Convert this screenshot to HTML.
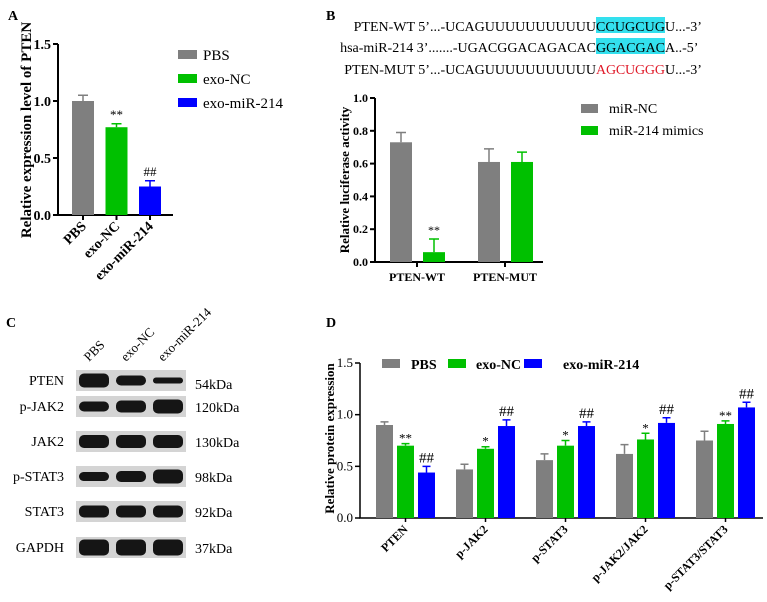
<!DOCTYPE html>
<html><head><meta charset="utf-8">
<style>
html,body{margin:0;padding:0;background:#fff;}
svg{display:block;font-family:"Liberation Serif",serif;}
</style></head>
<body>
<svg id="fig" width="767" height="602" viewBox="0 0 767 602" xmlns="http://www.w3.org/2000/svg">
<text x="8" y="20" font-size="14" font-weight="bold">A</text>
<text x="326" y="20" font-size="14" font-weight="bold">B</text>
<text x="6" y="327" font-size="14" font-weight="bold">C</text>
<text x="326" y="327" font-size="14" font-weight="bold">D</text>

<g font-size="14">
  <rect x="596" y="17" width="69" height="16" fill="#33e0ee"/>
  <rect x="596" y="38" width="69" height="16" fill="#33e0ee"/>
  <text x="596" y="31" text-anchor="end">PTEN-WT  5’...-UCAGUUUUUUUUUUU</text>
  <text x="596" y="31" textLength="69">CCUGCUG</text>
  <text x="665" y="31">U...-3’</text>
  <text x="596" y="52" text-anchor="end">hsa-miR-214  3’.......-UGACGGACAGACAC</text>
  <text x="596" y="52" textLength="69">GGACGAC</text>
  <text x="665" y="52">A..-5’</text>
  <text x="596" y="74" text-anchor="end">PTEN-MUT  5’...-UCAGUUUUUUUUUUU</text>
  <text x="596" y="74" textLength="69" fill="#e01b2a">AGCUGGG</text>
  <text x="665" y="74">U...-3’</text>
</g>
<g id="blot"></g>
<g id="pa"></g>
<g id="pb"></g>
<g id="pd"></g>
</svg>
<script>
// ---- Panel A data
const aCategories = ["PBS","exo-NC","exo-miR-214"];
const aValues = [1.0, 0.77, 0.25];
const aErrors = [0.05, 0.03, 0.05];
const aMarks = ["", "**", "##"];
const aTicks = [0, 0.5, 1.0, 1.5];
// ---- Panel B data
const bCategories = ["PTEN-WT","PTEN-MUT"];
const bSeries = ["miR-NC","miR-214 mimics"];
const bNC = [0.73, 0.61];
const bMimic = [0.06, 0.61];
const bNCErr = [0.06, 0.08];
const bMimicErr = [0.08, 0.06];
const bMarks = ["**", ""];
const bTicks = [0, 0.2, 0.4, 0.6, 0.8, 1.0];
// ---- Panel D data
const dCategories = ["PTEN","p-JAK2","p-STAT3","p-JAK2/JAK2","p-STAT3/STAT3"];
const dSeries = ["PBS","exo-NC","exo-miR-214"];
const dPBS = [0.90, 0.47, 0.56, 0.62, 0.75];
const dNC = [0.70, 0.67, 0.70, 0.76, 0.91];
const dMiR = [0.44, 0.89, 0.89, 0.92, 1.07];
const dPBSErr = [0.03, 0.05, 0.06, 0.09, 0.09];
const dNCErr = [0.02, 0.02, 0.05, 0.06, 0.03];
const dMiRErr = [0.06, 0.06, 0.04, 0.05, 0.05];
const dNCMarks = ["**","*","*","*","**"];
const dMiRMarks = ["##","##","##","##","##"];
const dTicks = [0, 0.5, 1.0, 1.5];

const NS="http://www.w3.org/2000/svg";
const GRAY="#7f7f7f", GREEN="#00c000", BLUE="#0000ff";
function mk(parent, tag, attrs, text){
  const e=document.createElementNS(NS,tag);
  for(const k in attrs) e.setAttribute(k,attrs[k]);
  if(text!==undefined) e.textContent=text;
  parent.appendChild(e); return e;
}
function errBar(g,cx,yTop,yErr,color,w){
  const l=mk(g,'path',{d:`M${cx} ${yTop}V${yErr}M${cx-w} ${yErr}H${cx+w}`,stroke:color,'stroke-width':1.5,fill:'none'});
  
  
}

// ===== Panel A
(function(){
  const g=document.getElementById('pa');
  const x0=58,x1=173,yB=215,yT=44,vmax=1.5;
  const y=v=>yB-(v/vmax)*(yB-yT);
  const colors=[GRAY,GREEN,BLUE];
  const xc=i=>83+i*33.5;
  const ax=mk(g,'path',{d:`M${x0} ${yT}V${yB}H${x1}`,stroke:'#000','stroke-width':2,fill:'none'});
  
  
  aTicks.forEach(t=>{
    mk(g,'line',{x1:x0-5,x2:x0,y1:y(t),y2:y(t),stroke:'#000','stroke-width':2});
    const tl=mk(g,'text',{x:x0-7,y:y(t)+5,'text-anchor':'end','font-size':14,'font-weight':'bold'},t.toFixed(1));
    
    
  });
  aValues.forEach((v,i)=>{
    const cx=xc(i);
    const r=mk(g,'rect',{x:cx-11,y:y(v),width:22,height:yB-y(v),fill:colors[i]});
    
    
    errBar(g,cx,y(v),y(v+aErrors[i]),colors[i],5);
    if(aMarks[i]){const m=mk(g,'text',{x:cx,y:y(v+aErrors[i])-5,'text-anchor':'middle','font-size':13},aMarks[i]);
      }
    mk(g,'line',{x1:cx,x2:cx,y1:yB,y2:yB+5,stroke:'#000','stroke-width':2});
    const lb=mk(g,'text',{x:cx+4,y:yB+12,'text-anchor':'end','font-size':14,'font-weight':'bold',transform:`rotate(-45 ${cx+4} ${yB+12})`},aCategories[i]);
    
    
    const sw=mk(g,'rect',{x:178,y:50+i*24,width:19,height:9,fill:colors[i]});
    
    
    const lt=mk(g,'text',{x:203,y:60+i*24,'font-size':15},aCategories[i]);
    
    
  });
  const t=mk(g,'text',{x:0,y:0,'text-anchor':'middle','font-size':15,'font-weight':'bold',transform:`translate(31 130) rotate(-90)`},'Relative expression level of PTEN');
  
  
})();

// ===== Panel B
(function(){
  const g=document.getElementById('pb');
  const x0=375,x1=543,yB=262,yT=98,vmax=1.0;
  const y=v=>yB-(v/vmax)*(yB-yT);
  const gc=i=>417+i*88;
  const ax=mk(g,'path',{d:`M${x0} ${yT}V${yB}H${x1}`,stroke:'#000','stroke-width':2,fill:'none'});
  
  
  bTicks.forEach(t=>{
    mk(g,'line',{x1:x0-5,x2:x0,y1:y(t),y2:y(t),stroke:'#000','stroke-width':2});
    const tl=mk(g,'text',{x:x0-7,y:y(t)+4,'text-anchor':'end','font-size':12,'font-weight':'bold'},t.toFixed(1));
    
    
  });
  bCategories.forEach((c,i)=>{
    const c1=gc(i)-16,c2=gc(i)+17;
    [[bNC,bNCErr,GRAY,c1],[bMimic,bMimicErr,GREEN,c2]].forEach(([vals,errs,col,cx],s)=>{
      const v=vals[i];
      const r=mk(g,'rect',{x:cx-11,y:y(v),width:22,height:yB-y(v),fill:col});
      
      
      errBar(g,cx,y(v),y(v+errs[i]),col,5);
    });
    if(bMarks[i]){const m=mk(g,'text',{x:c2,y:y(bMimic[i]+bMimicErr[i])-5,'text-anchor':'middle','font-size':12},bMarks[i]);
      }
    mk(g,'line',{x1:gc(i),x2:gc(i),y1:yB,y2:yB+5,stroke:'#000','stroke-width':2});
    const lb=mk(g,'text',{x:gc(i),y:yB+19,'text-anchor':'middle','font-size':12,'font-weight':'bold'},c);
    
    
  });
  [GRAY,GREEN].forEach((col,i)=>{
    const sw=mk(g,'rect',{x:581,y:104+i*22,width:17,height:9,fill:col});
    
    
    const lt=mk(g,'text',{x:609,y:113+i*22,'font-size':14},bSeries[i]);
    
    
  });
  const t=mk(g,'text',{x:0,y:0,'text-anchor':'middle','font-size':13,'font-weight':'bold',transform:`translate(349 ${(yT+yB)/2}) rotate(-90)`},'Relative luciferase activity');
  
  
})();

// ===== Panel C (western blot)
(function(){
  const g=document.getElementById('blot');
  const rows=["PTEN","p-JAK2","JAK2","p-STAT3","STAT3","GAPDH"];
  const kda=["54kDa","120kDa","130kDa","98kDa","92kDa","37kDa"];
  const tops=[370,396,431,466,501,537];
  const lanes=[94,131,168];
  const lanesN=["PBS","exo-NC","exo-miR-214"];
  const bandH=[[7,5,3],[5,6,7],[6.5,6.5,6.5],[4.5,5.5,7],[6,6,6],[8,8,8]];
  rows.forEach((r,i)=>{
    const bx=mk(g,'rect',{x:76,y:tops[i],width:110,height:21,fill:'#d4d4d4'});
    
    
    lanes.forEach((lx,j)=>{
      const h=bandH[i][j]*2;
      const b=mk(g,'rect',{x:lx-15,y:tops[i]+10.5-h/2,width:30,height:h,rx:Math.min(5,h/2),fill:'#151515'});
      
      
    });
    const l=mk(g,'text',{x:64,y:tops[i]+15,'text-anchor':'end','font-size':14},r);
    
    
    const k=mk(g,'text',{x:195,y:tops[i]+(i==0?19:16),'font-size':14},kda[i]);
    
    
  });
  lanes.forEach((lx,j)=>{
    const t=mk(g,'text',{x:lx-5,y:362,'font-size':13,transform:`rotate(-45 ${lx-5} 362)`},lanesN[j]);
    
    
  });
})();

// ===== Panel D
(function(){
  const g=document.getElementById('pd');
  const x0=360,x1=763,yB=518,yT=363,vmax=1.5;
  const y=v=>yB-(v/vmax)*(yB-yT);
  const gx=i=>376+i*80;
  const ax=mk(g,'path',{d:`M${x0} ${yT}V${yB}H${x1}`,stroke:'#000','stroke-width':1.5,fill:'none'});
  
  
  dTicks.forEach(t=>{
    mk(g,'line',{x1:x0-5,x2:x0,y1:y(t),y2:y(t),stroke:'#000','stroke-width':1.5});
    const tl=mk(g,'text',{x:x0-7,y:y(t)+4,'text-anchor':'end','font-size':13},t.toFixed(1));
    
    
  });
  const series=[[dPBS,dPBSErr,GRAY,null],[dNC,dNCErr,GREEN,dNCMarks],[dMiR,dMiRErr,BLUE,dMiRMarks]];
  dCategories.forEach((c,i)=>{
    series.forEach(([vals,errs,col,marks],s)=>{
      const left=gx(i)+s*21, cx=left+8.5, v=vals[i];
      const r=mk(g,'rect',{x:left,y:y(v),width:17,height:yB-y(v),fill:col});
      
      
      errBar(g,cx,y(v),y(v+errs[i]),col,4);
      if(marks&&marks[i]){
        const m=mk(g,'text',{x:cx,y:y(v+errs[i])-(marks[i][0]=='#'?4:1),'text-anchor':'middle','font-size':marks[i][0]=='#'?15:13},marks[i]);
        
        
      }
    });
    const tc=gx(i)+29.5;
    mk(g,'line',{x1:tc,x2:tc,y1:yB,y2:yB+4,stroke:'#000','stroke-width':1.5});
    const lb=mk(g,'text',{x:tc+3,y:yB+12,'text-anchor':'end','font-size':12,'font-weight':'bold',transform:`rotate(-45 ${tc+3} ${yB+12})`},c);
    
    
  });
  const legX=[382,448,524], legT=[411,476,563];
  [GRAY,GREEN,BLUE].forEach((col,i)=>{
    const sw=mk(g,'rect',{x:legX[i],y:359,width:18,height:9,fill:col});
    
    
    const lt=mk(g,'text',{x:legT[i],y:369,'font-size':14,'font-weight':'bold'},dSeries[i]);
    
    
  });
  const t=mk(g,'text',{x:0,y:0,'text-anchor':'middle','font-size':13,'font-weight':'bold',transform:`translate(334 ${(yT+yB)/2-2}) rotate(-90)`},'Relative protein expression');
  
  
})();
</script>
</body></html>
